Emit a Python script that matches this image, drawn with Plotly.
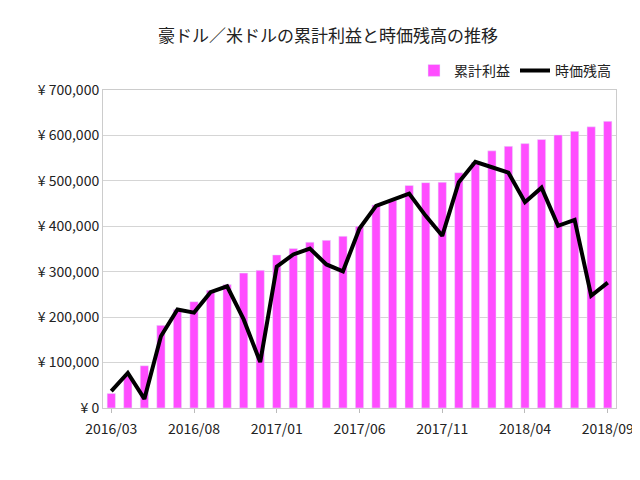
import plotly.graph_objects as go

months = [f"{y}/{m:02d}" for y, m in
          [(2016, m) for m in range(3, 13)] + [(2017, m) for m in range(1, 13)] + [(2018, m) for m in range(1, 10)]]

profit = [32000, 70000, 93000, 182000, 217000, 234000, 259000, 272000, 297000, 303000,
          337000, 351000, 365000, 369000, 378000, 400000, 447000, 457000, 490000, 496000,
          497000, 518000, 541000, 566000, 576000, 582000, 591000, 601000, 609000, 619000, 631000]

balance = [37000, 77000, 20000, 158000, 217000, 210000, 255000, 268000, 195000, 101000,
           311000, 338000, 351000, 316000, 301000, 395000, 445000, 458000, 472000, 423000,
           379000, 497000, 542000, 530000, 518000, 453000, 485000, 401000, 414000, 247000, 276000]

yticks = list(range(0, 700001, 100000))
ytext = ["¥ 0"] + [f"¥ {v:,}" for v in yticks[1:]]

fig = go.Figure()
fig.add_trace(go.Bar(x=months, y=profit, name="累計利益", marker_color="#ff4dff", width=0.5))
fig.add_trace(go.Scatter(x=months, y=balance, name="時価残高", mode="lines",
                         line=dict(color="black", width=4)))

fig.update_layout(
    width=640, height=480,
    title=dict(text="豪ドル／米ドルの累計利益と時価残高の推移", x=0.5, y=0.955, xanchor="center",
               font=dict(size=17, color="#222")),
    font=dict(family="Noto Sans CJK JP", size=14, color="#222"),
    paper_bgcolor="white", plot_bgcolor="white",
    margin=dict(l=95, r=32, t=82, b=80),
    legend=dict(orientation="h", x=1.0, xanchor="right", y=1.01, yanchor="bottom",
                font=dict(size=14)),
    showlegend=True,
    bargap=0.5,
)
fig.update_xaxes(tickvals=months[::5], ticks="outside", ticklen=4, tickcolor="#bbb",
                 ticklabelstandoff=4, showline=True, linecolor="#ccc", mirror=True,
                 tickfont=dict(size=14))
fig.update_yaxes(range=[0, 700000], tickvals=yticks, ticktext=ytext, gridcolor="#d5d5d5",
                 showline=True, linecolor="#ccc", mirror=True, tickfont=dict(size=14))

fig.write_html("out.html")
